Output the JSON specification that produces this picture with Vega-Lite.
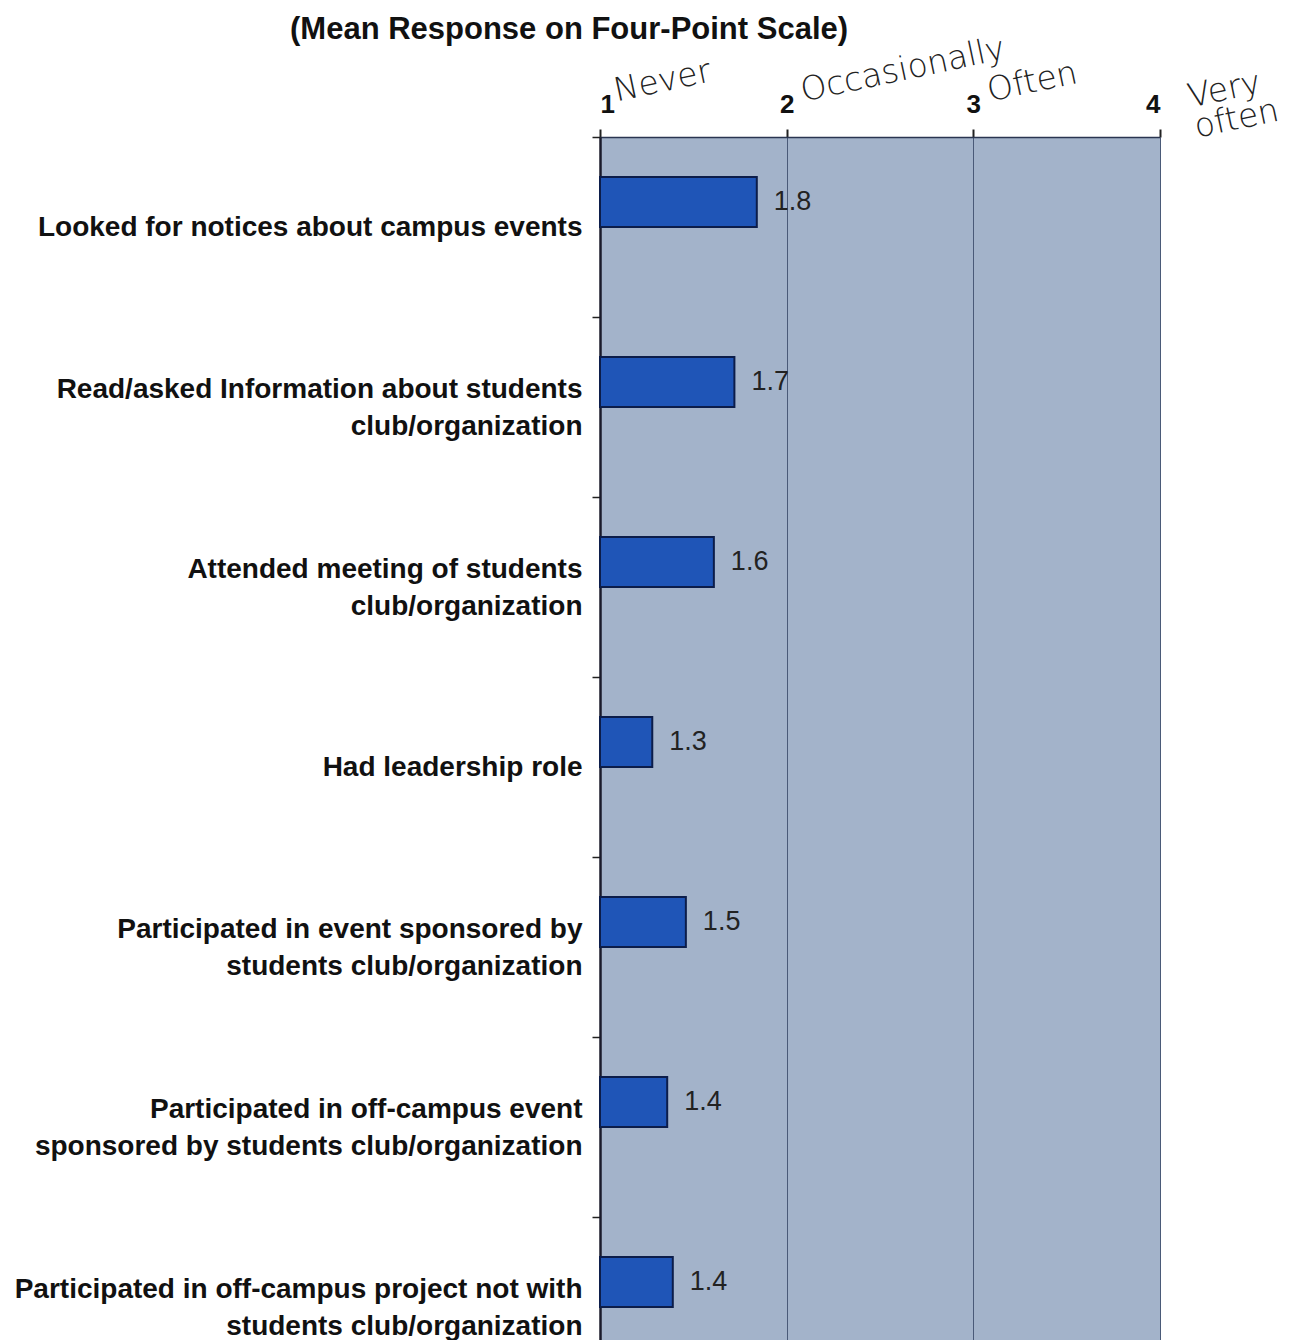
{
  "$schema": "https://vega.github.io/schema/vega-lite/v6.json",
  "width": 560,
  "height": 1260,
  "autosize": "none",
  "padding": {"left": 600, "top": 137, "right": 152, "bottom": 0},
  "background": "white",
  "title": {
    "text": "(Mean Response on Four-Point Scale)",
    "font": "Liberation Sans",
    "fontSize": 31,
    "fontWeight": "bold",
    "color": "#111111",
    "anchor": "start",
    "frame": "group",
    "dx": -310,
    "offset": -14
  },
  "config": {
    "view": {"fill": "#a3b3ca", "stroke": null}
  },
  "data": {
    "values": [
      {"item": "Looked for notices about campus events", "value": 1.84},
      {"item": "Read/asked Information about students|club/organization", "value": 1.72},
      {"item": "Attended meeting of students|club/organization", "value": 1.61},
      {"item": "Had leadership role", "value": 1.28},
      {"item": "Participated in event sponsored by|students club/organization", "value": 1.46},
      {"item": "Participated in off-campus event|sponsored by students club/organization", "value": 1.36},
      {"item": "Participated in off-campus project not with|students club/organization", "value": 1.39}
    ]
  },
  "encoding": {
    "y": {
      "field": "item",
      "type": "nominal",
      "sort": null,
      "scale": {"paddingInner": 0, "paddingOuter": 0},
      "axis": {
        "title": null,
        "labelExpr": "split(datum.label, '|')",
        "labelFont": "Liberation Sans",
        "labelFontSize": 28,
        "labelFontWeight": "bold",
        "labelColor": "#111111",
        "labelAlign": "right",
        "labelBaseline": "middle",
        "labelLineHeight": 37,
        "labelPadding": 10,
        "labelLimit": 700,
        "labelOffset": {"condition": {"test": "indexof(datum.label, '|') >= 0", "value": -18}, "value": 0},
        "tickBand": "extent",
        "tickSize": 8,
        "tickColor": "#222222",
        "tickWidth": 1.5,
        "domainColor": "#1a1a2a",
        "domainWidth": 2.5,
        "grid": false
      }
    }
  },
  "resolve": {"axis": {"x": "independent"}},
  "layer": [
    {
      "mark": {
        "type": "bar",
        "height": 50,
        "yOffset": -25,
        "fill": "#1f55b7",
        "stroke": "#0c1d4a",
        "strokeWidth": 2
      },
      "encoding": {
        "x": {
          "field": "value",
          "type": "quantitative",
          "scale": {"domain": [1, 4], "nice": false, "zero": false},
          "axis": {
            "orient": "top",
            "title": null,
            "values": [1, 2, 3, 4],
            "format": "d",
            "labelFont": "Liberation Sans",
            "labelFontSize": 26,
            "labelFontWeight": "bold",
            "labelColor": "#111111",
            "labelPadding": 12,
            "tickSize": 8,
            "tickColor": "#222222",
            "tickWidth": 2,
            "domainColor": "#2a3550",
            "domainWidth": 1.5,
            "grid": true,
            "gridColor": "#4a5a78",
            "gridWidth": 1,
            "minExtent": 70,
            "maxExtent": 70
          }
        },
        "x2": {"datum": 1}
      }
    },
    {
      "mark": {
        "type": "text",
        "align": "left",
        "baseline": "middle",
        "dx": 17,
        "yOffset": -25,
        "font": "Liberation Sans",
        "fontSize": 27,
        "color": "#222222"
      },
      "encoding": {
        "x": {
          "field": "value",
          "type": "quantitative",
          "axis": {
            "orient": "top",
            "title": null,
            "values": [1, 2, 3, 4],
            "labelExpr": "datum.value == 1 ? 'Never' : datum.value == 2 ? 'Occasionally' : datum.value == 3 ? 'Often' : ['Very', 'often']",
            "labelFont": "DejaVu Sans",
            "labelFontSize": 33,
            "labelFontWeight": 300,
            "labelColor": "#222222",
            "labelAlign": "left",
            "labelBaseline": "alphabetic",
            "labelAngle": -12,
            "labelOffset": {"condition": {"test": "datum.value == 4", "value": 30}, "value": 16},
            "labelLineHeight": 31,
            "labelPadding": {"condition": {"test": "datum.value == 4", "value": 30}, "value": 36},
            "labelLimit": 500,
            "labelOverlap": false,
            "ticks": false,
            "domain": false,
            "grid": false,
            "minExtent": 70,
            "maxExtent": 70,
            "encode": {
              "labels": {
                "update": {
                  "angle": {"signal": "datum.value == 2 ? -18 : datum.value == 3 ? -13 : -10"}
                }
              }
            }
          }
        },
        "text": {"field": "value", "type": "quantitative", "format": ".1f"}
      }
    }
  ]
}
